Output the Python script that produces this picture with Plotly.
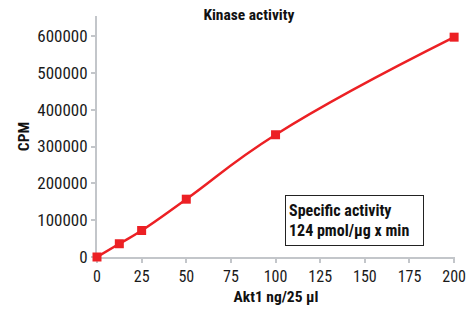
import plotly.graph_objects as go

akt1_ng = [0, 12.5, 25, 50, 100, 200]
cpm = [0, 36000, 72000, 157000, 332000, 597000]
x_ticks = [0, 25, 50, 75, 100, 125, 150, 175, 200]
y_ticks = [0, 100000, 200000, 300000, 400000, 500000, 600000]

FONT = "Liberation Sans Narrow, Roboto Condensed, Arial Narrow, Liberation Sans, sans-serif"
RED = "#ec2024"
GREY = "#c3c6ca"
TXT = "#1a1a1a"

fig = go.Figure()
fig.add_trace(go.Scatter(
    x=akt1_ng, y=cpm, mode="lines+markers",
    line=dict(color=RED, width=2.5, shape="spline", smoothing=1.3),
    marker=dict(symbol="square", size=9, color=RED),
    cliponaxis=False, showlegend=False,
))

fig.update_layout(
    width=467, height=317, autosize=False,
    margin=dict(l=97, r=12, t=16, b=60, autoexpand=False),
    paper_bgcolor="white", plot_bgcolor="white",
    font=dict(family=FONT, size=17, color=TXT),
    title=dict(text="<b>Kinase activity</b>", x=0.533, xanchor="center", y=0.953, yanchor="middle",
               font=dict(family=FONT, size=15.5, color="#111")),
    xaxis=dict(range=[0, 200.5], tickvals=x_ticks, showgrid=False, zeroline=False, automargin=False,
               showline=True, linecolor=GREY, linewidth=2, layer="below traces",
               ticks="outside", ticklen=4, tickcolor=GREY, tickwidth=2,
               tickfont=dict(family=FONT, size=16, color=TXT),
               title=dict(text="<b>Akt1 ng/25 µl</b>", font=dict(family=FONT, size=15.5, color="#111"), standoff=6)),
    yaxis=dict(range=[0, 654500], tickvals=y_ticks, tickformat="d", showgrid=False, zeroline=False, automargin=False,
               showline=True, linecolor=GREY, linewidth=2, layer="below traces",
               ticks="outside", ticklen=4, tickcolor=GREY, tickwidth=2,
               tickfont=dict(family=FONT, size=17, color=TXT),
               title=dict(text="<b>CPM</b>", font=dict(family=FONT, size=15.5, color="#111"), standoff=4)),
)

fig.add_annotation(
    x=0.525, y=0.257, xref="paper", yref="paper", xanchor="left", yanchor="top",
    text="<b>Specific activity</b><br><b>124 pmol/µg x min</b>",
    showarrow=False, align="left", width=131, height=43,
    font=dict(family=FONT, size=16, color="#111"),
    bordercolor="#222", borderwidth=1, borderpad=3, bgcolor="white",
)

fig.write_html(
    "out.html",
    config={"displayModeBar": False, "responsive": False},
    post_script=(
        "document.documentElement.style.overflow='hidden';"
        "document.body.style.overflow='hidden';"
        "document.body.style.margin='0';"
    ),
)
